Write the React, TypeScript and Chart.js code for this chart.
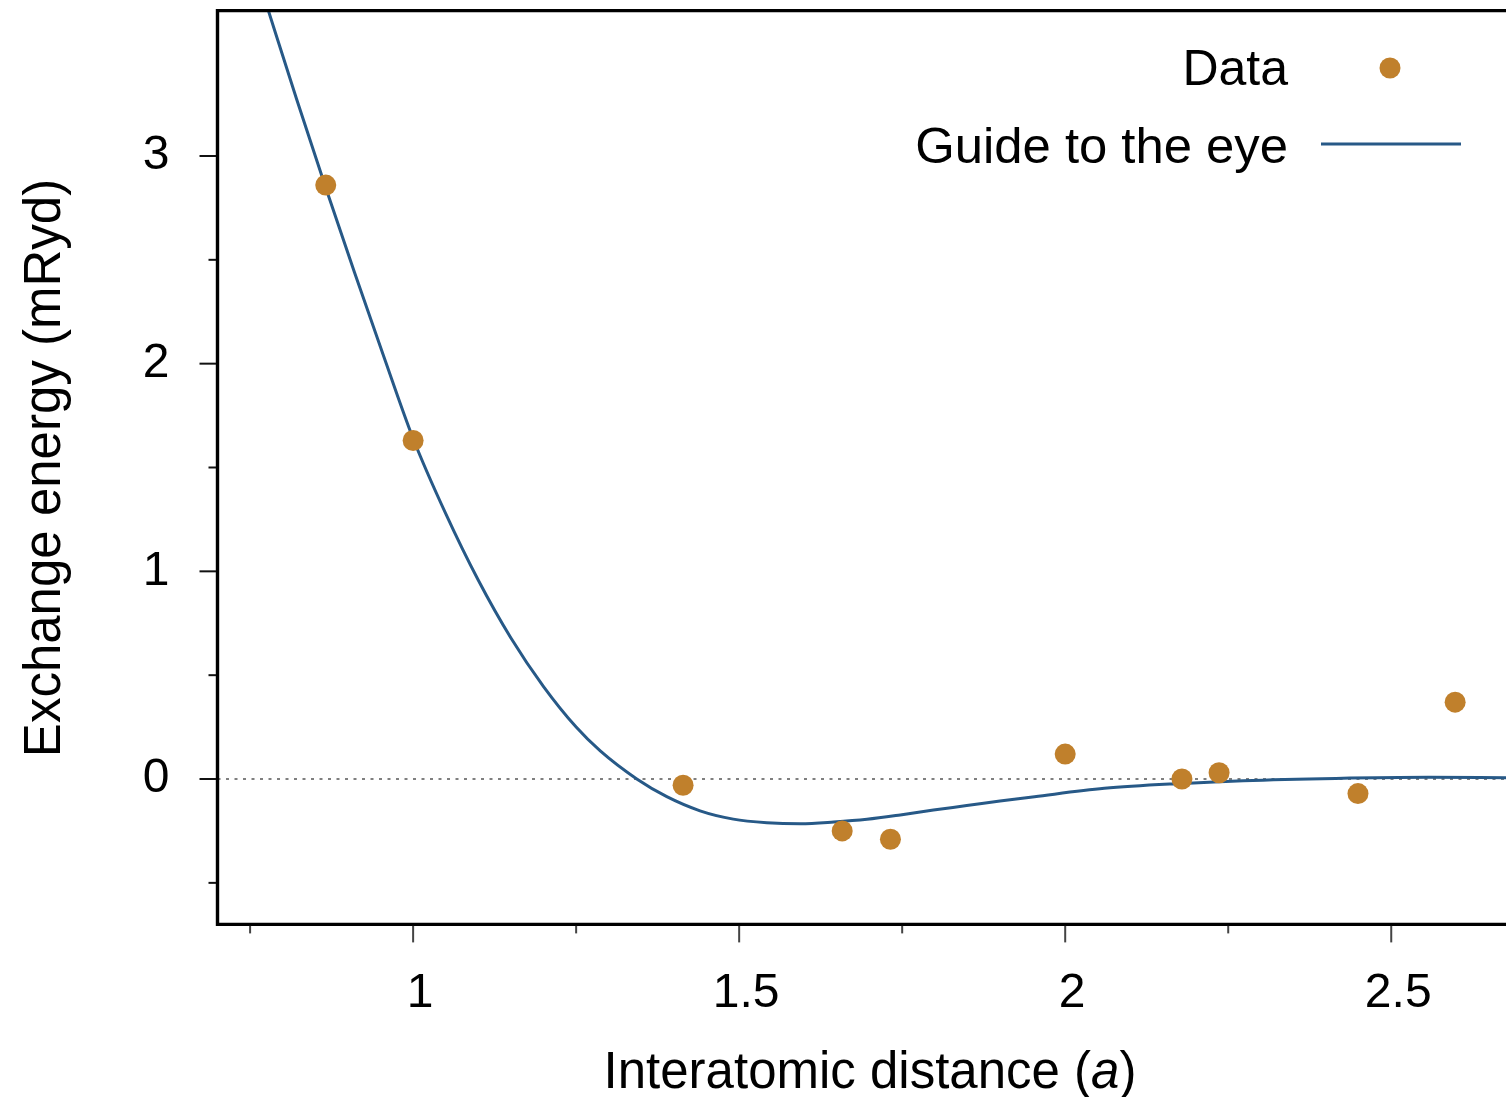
import React, { useEffect, useRef } from "react";
import { Chart, registerables } from "chart.js";

Chart.register(...registerables);

// ---------- data ----------
const dataX = [0.866, 1.0, 1.414, 1.658, 1.732, 2.0, 2.179, 2.236, 2.449, 2.598];
const dataY = [2.86, 1.63, -0.03, -0.25, -0.29, 0.12, 0.0, 0.03, -0.07, 0.37];

const guideX = [
  0.776, 0.821, 0.866, 0.91, 0.955, 1.0, 1.05, 1.1, 1.15, 1.2, 1.25, 1.287, 1.343, 1.389,
  1.44, 1.491, 1.5425, 1.594, 1.645, 1.696, 1.747, 1.798, 1.849, 1.9, 1.953, 2.06, 2.181,
  2.273, 2.415, 2.557, 2.676,
];
const guideY = [
  3.72, 3.277, 2.847, 2.44, 2.035, 1.64, 1.278, 0.957, 0.679, 0.445, 0.25, 0.135, 0.0, -0.085,
  -0.153, -0.193, -0.21, -0.215, -0.207, -0.194, -0.173, -0.149, -0.128, -0.106, -0.085, -0.045, -0.021,
  -0.008, 0.003, 0.008, 0.006,
];

const X_MIN = 0.7;
const X_MAX = 2.676;
const Y_MIN = -0.7;
const Y_MAX = 3.7;

const xMajorTicks = [1, 1.5, 2, 2.5];
const xMinorTicks = [0.75, 1.25, 1.75, 2.25];
const yMajorTicks = [0, 1, 2, 3];
const yMinorTicks = [-0.5, 0.5, 1.5, 2.5];

const legendLabels = ["Data", "Guide to the eye"];
const xTitleParts = ["Interatomic distance (", "a", ")"];
const yTitle = "Exchange energy (mRyd)";

// ---------- styles ----------
const FONT = '"Liberation Sans", Arial, Helvetica, sans-serif';
const POINT_COLOR = "#c0802c";
const LINE_COLOR = "#275987";

const zeroPadding = (axis: any) => {
  axis.paddingTop = 0;
  axis.paddingBottom = 0;
  axis.paddingLeft = 0;
  axis.paddingRight = 0;
};

const decorPlugin = {
  id: "decor",
  beforeDatasetsDraw(chart: any) {
    const { ctx, chartArea: ca, scales } = chart;
    const y0 = scales.y.getPixelForValue(0);
    ctx.save();
    ctx.strokeStyle = "#000";
    ctx.lineWidth = 1.2;
    ctx.setLineDash([3, 5.5]);
    ctx.beginPath();
    ctx.moveTo(ca.left, y0);
    ctx.lineTo(ca.right, y0);
    ctx.stroke();
    ctx.restore();
  },
  afterDraw(chart: any) {
    const { ctx, chartArea: ca, scales } = chart;
    const xs = scales.x;
    const ys = scales.y;
    ctx.save();

    // frame (left, top, bottom)
    ctx.strokeStyle = "#000";
    ctx.lineWidth = 3.4;
    ctx.lineCap = "square";
    ctx.beginPath();
    ctx.moveTo(ca.right + 4, ca.top);
    ctx.lineTo(ca.left, ca.top);
    ctx.lineTo(ca.left, ca.bottom);
    ctx.lineTo(ca.right + 4, ca.bottom);
    ctx.stroke();

    // ticks
    ctx.lineCap = "butt";
    ctx.lineWidth = 2;
    ctx.strokeStyle = "#444";
    const xb = ca.bottom + 1.5;
    xMajorTicks.forEach((v) => {
      const p = xs.getPixelForValue(v);
      ctx.beginPath();
      ctx.moveTo(p, xb);
      ctx.lineTo(p, ca.bottom + 18);
      ctx.stroke();
    });
    xMinorTicks.forEach((v) => {
      const p = xs.getPixelForValue(v);
      ctx.beginPath();
      ctx.moveTo(p, xb);
      ctx.lineTo(p, ca.bottom + 9);
      ctx.stroke();
    });
    ctx.strokeStyle = "#111";
    const yl = ca.left - 1.5;
    yMajorTicks.forEach((v) => {
      const p = ys.getPixelForValue(v);
      ctx.beginPath();
      ctx.moveTo(yl, p);
      ctx.lineTo(ca.left - 18, p);
      ctx.stroke();
    });
    yMinorTicks.forEach((v) => {
      const p = ys.getPixelForValue(v);
      ctx.beginPath();
      ctx.moveTo(yl, p);
      ctx.lineTo(ca.left - 9, p);
      ctx.stroke();
    });

    // legend
    ctx.fillStyle = "#000";
    ctx.font = `50px ${FONT}`;
    ctx.textAlign = "right";
    ctx.textBaseline = "alphabetic";
    ctx.fillText(legendLabels[0], 1288, 85);
    ctx.font = `50.8px ${FONT}`;
    ctx.fillText(legendLabels[1], 1288, 163);
    ctx.fillStyle = POINT_COLOR;
    ctx.beginPath();
    ctx.arc(1390, 68, 10.5, 0, Math.PI * 2);
    ctx.fill();
    ctx.strokeStyle = LINE_COLOR;
    ctx.lineWidth = 3;
    ctx.beginPath();
    ctx.moveTo(1321, 144);
    ctx.lineTo(1461, 144);
    ctx.stroke();

    // x title with italic "a"
    ctx.fillStyle = "#000";
    ctx.textAlign = "left";
    const fonts = [`51px ${FONT}`, `italic 51px ${FONT}`, `51px ${FONT}`];
    let total = 0;
    const widths = xTitleParts.map((t, i) => {
      ctx.font = fonts[i];
      const w = ctx.measureText(t).width;
      total += w;
      return w;
    });
    let xp = 870 - total / 2;
    xTitleParts.forEach((t, i) => {
      ctx.font = fonts[i];
      ctx.fillText(t, xp, 1088);
      xp += widths[i];
    });

    // y title
    ctx.translate(60, 468);
    ctx.rotate(-Math.PI / 2);
    ctx.textAlign = "center";
    ctx.font = `51px ${FONT}`;
    ctx.fillText(yTitle, 0, 0);

    ctx.restore();
  },
};

export default function App() {
  const ref = useRef<HTMLCanvasElement | null>(null);

  useEffect(() => {
    if (!ref.current) return;
    const chart = new Chart(ref.current, {
      type: "scatter",
      data: {
        datasets: [
          {
            type: "line",
            label: legendLabels[1],
            data: guideX.map((x, i) => ({ x, y: guideY[i] })),
            borderColor: LINE_COLOR,
            borderWidth: 3,
            pointRadius: 0,
            fill: false,
            cubicInterpolationMode: "monotone",
            order: 2,
          } as any,
          {
            type: "scatter",
            label: legendLabels[0],
            data: dataX.map((x, i) => ({ x, y: dataY[i] })),
            backgroundColor: POINT_COLOR,
            borderWidth: 0,
            pointRadius: 10.5,
            order: 1,
          },
        ],
      },
      options: {
        animation: false,
        responsive: false,
        devicePixelRatio: 1,
        layout: { autoPadding: false, padding: { top: 10.6, right: 0, left: 0, bottom: 0 } },
        plugins: {
          legend: { display: false },
          tooltip: { enabled: false },
        },
        scales: {
          x: {
            type: "linear",
            min: X_MIN,
            max: X_MAX,
            grid: { display: false, drawTicks: false },
            border: { display: false },
            afterBuildTicks: (axis: any) => {
              axis.ticks = xMajorTicks.map((v) => ({ value: v }));
            },
            afterFit: (axis: any) => {
              axis.height = 172.6;
              zeroPadding(axis);
            },
            ticks: {
              autoSkip: false,
              maxRotation: 0,
              padding: 41,
              labelOffset: 7,
              color: "#000",
              font: { family: FONT, size: 48 },
              callback: (v: any) => String(v),
            },
          },
          y: {
            type: "linear",
            min: Y_MIN,
            max: Y_MAX,
            grid: { display: false, drawTicks: false },
            border: { display: false },
            afterBuildTicks: (axis: any) => {
              axis.ticks = yMajorTicks.map((v) => ({ value: v }));
            },
            afterFit: (axis: any) => {
              axis.width = 217.5;
              zeroPadding(axis);
            },
            ticks: {
              autoSkip: false,
              padding: 48,
              color: "#000",
              font: { family: FONT, size: 48 },
              callback: (v: any) => String(v),
            },
          },
        },
      },
      plugins: [decorPlugin],
    });
    return () => chart.destroy();
  }, []);

  return (
    <div style={{ position: "fixed", left: 0, top: 0, width: 1506, height: 1097, background: "#fff" }}>
      <canvas ref={ref} width={1506} height={1097} style={{ display: "block" }} />
    </div>
  );
}
